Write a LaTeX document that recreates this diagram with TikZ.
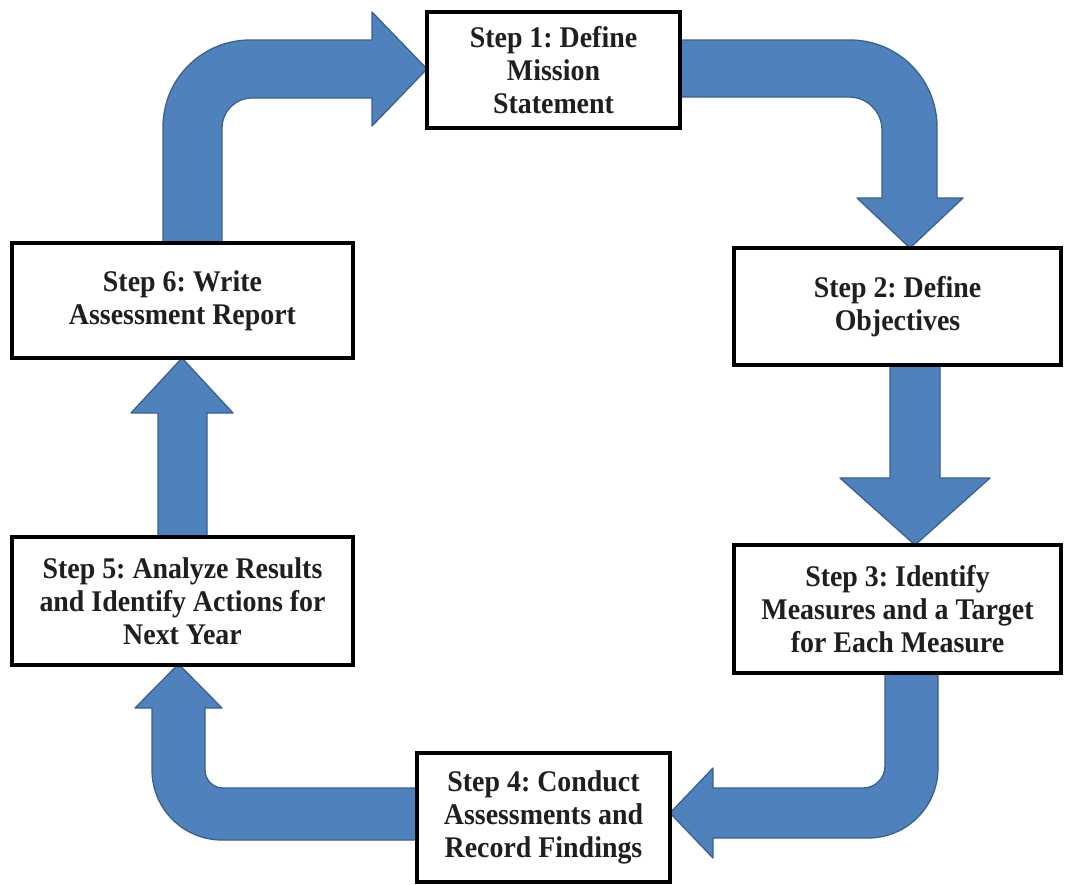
\documentclass[tikz,border=0pt]{standalone}
\usepackage{fontspec}
\setmainfont[FakeStretch=0.93]{Liberation Serif}
\definecolor{arrowfill}{HTML}{4F81BD}
\definecolor{arrowline}{HTML}{3A6090}
\frenchspacing
\begin{document}
\begin{tikzpicture}[x=1pt,y=-1pt,
  blockarrow/.style={fill=arrowfill,draw=arrowline,line width=1.3pt,line join=round},
  stepbox/.style={draw=black,line width=4pt,fill=white,inner sep=0pt,align=center,
    font=\fontsize{30}{33}\selectfont\bfseries,text=black!88}]
\useasboundingbox (0,0) rectangle (1067,884);
% arrows
\draw[blockarrow] (163,250) -- (163,127) .. controls (163,79) and (202,40) .. (250,40) -- (372,40) -- (372,12) -- (427,69) -- (372,126) -- (372,98) -- (252,98) .. controls (235.4,98) and (222,111.4) .. (222,128) -- (222,250) -- cycle;
\draw[blockarrow] (676,40) -- (850,40) .. controls (898,40) and (937,79) .. (937,127) -- (937,198) -- (963,198) -- (910,248) -- (857,198) -- (882,198) -- (882,130) .. controls (882,111.8) and (867.2,97) .. (849,97) -- (676,97) -- cycle;
\draw[blockarrow] (890,362) -- (940,362) -- (940,478) -- (990,478) -- (915,545) -- (840,478) -- (890,478) -- cycle;
\draw[blockarrow] (885,670) -- (938,670) -- (938,768) .. controls (938,806.7) and (906.7,838) .. (868,838) -- (713,838) -- (713,858) -- (670,813) -- (713,768) -- (713,788) -- (863,788) .. controls (875.2,788) and (885,778.2) .. (885,766) -- cycle;
\draw[blockarrow] (421,788) -- (223,788) .. controls (213.1,788) and (205,779.9) .. (205,770) -- (205,708) -- (222,708) -- (178.5,664) -- (135,708) -- (152,708) -- (152,770) .. controls (152,808.7) and (183.3,840) .. (222,840) -- (421,840) -- cycle;
\draw[blockarrow] (158,540) -- (158,413) -- (131,413) -- (182,358) -- (233,413) -- (207,413) -- (207,540) -- cycle;
% boxes
\node[stepbox,minimum width=253pt,minimum height=116pt] (b1) at (553.5,70) {Step 1: Define\\Mission\\Statement};
\node[stepbox,minimum width=327pt,minimum height=117pt] (b2) at (897.5,306.5) {Step 2: Define\\Objectives};
\node[stepbox,minimum width=327pt,minimum height=128pt] (b3) at (897.5,609) {Step 3: Identify\\Measures and a Target\\for Each Measure};
\node[stepbox,minimum width=253pt,minimum height=129pt] (b4) at (543.5,817.5) {Step 4: Conduct\\Assessments and\\Record Findings};
\node[stepbox,minimum width=341pt,minimum height=128pt] (b5) at (182.5,601) {Step 5: Analyze Results\\and Identify Actions for\\Next Year};
\node[stepbox,minimum width=341pt,minimum height=115pt] (b6) at (182.5,300.5) {Step 6: Write\\Assessment Report};
\end{tikzpicture}
\end{document}
